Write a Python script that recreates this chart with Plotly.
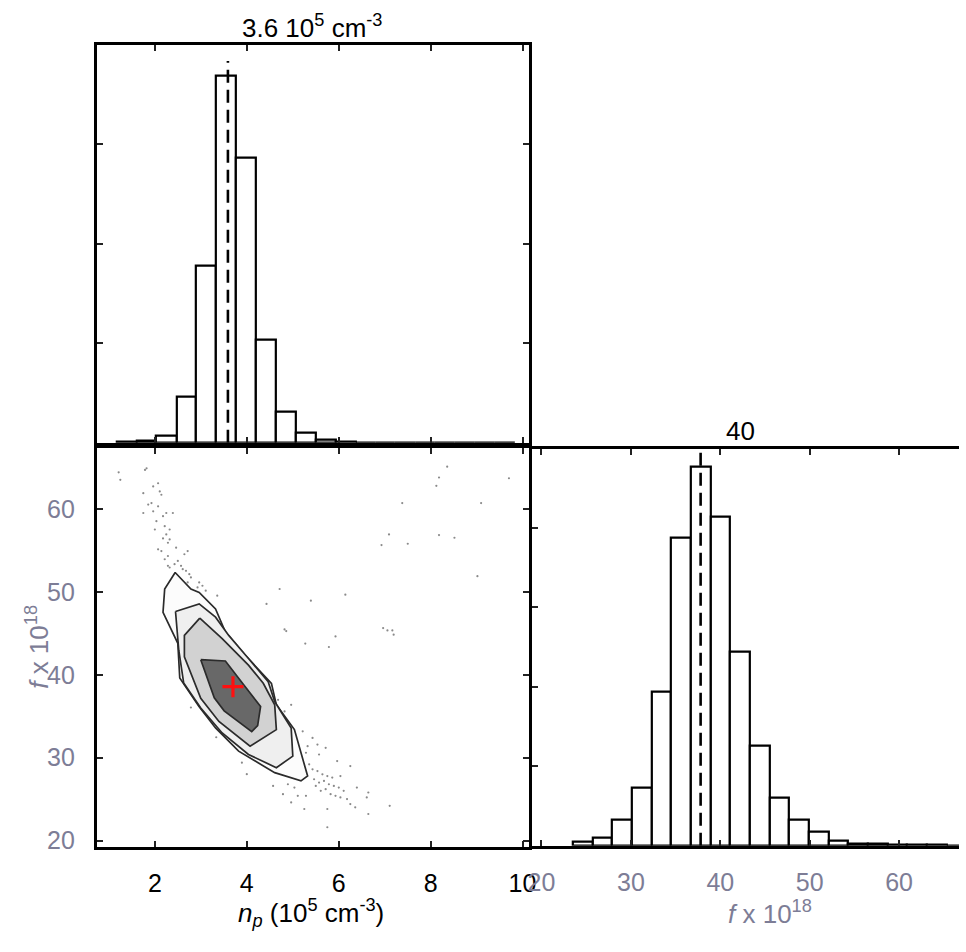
import plotly.graph_objects as go

# ---------------- data ----------------
# marginal histogram of n_p (10^5 cm^-3)
np_edges = [1.17, 1.60, 2.03, 2.47, 2.90, 3.33, 3.77, 4.20, 4.63, 5.07, 5.50,
            5.93, 6.37, 6.80, 7.23, 7.67, 8.10, 8.53, 8.97, 9.40, 9.83]
np_counts = [2, 6, 17, 115, 445, 922, 715, 260, 78, 25, 8, 3, 1, 1, 0, 0, 0, 0, 0, 0]
np_median = 3.59

# marginal histogram of f x 10^18
f_edges = [23.5, 25.7, 27.9, 30.1, 32.3, 34.5, 36.7, 38.9, 41.1, 43.3, 45.5,
           47.7, 49.9, 52.1, 54.3, 56.5, 58.7, 60.9, 63.1, 65.3, 67.5]
f_counts = [10, 20, 66, 146, 388, 775, 954, 828, 490, 252, 120, 65, 35, 14, 6, 4, 3, 2, 2, 1]
f_median = 37.8

# best-fit point
best_np = [3.70]
best_f = [38.56]

# posterior samples outside the contoured region
sample_np = [1.213, 1.249, 1.786, 1.820, 2.071, 1.964, 2.107, 2.142, 1.749, 1.927, 2.071, 1.856,
             1.749, 1.964, 2.249, 2.392, 2.178, 2.034, 2.215, 2.322, 2.000, 2.249, 2.178, 2.322,
             2.285, 2.463, 2.071, 2.142, 2.714, 2.643, 2.285, 2.215, 2.500, 2.429, 2.570, 2.322,
             2.607, 2.678, 2.750, 2.785, 2.714, 2.965, 2.929, 3.036, 3.107, 3.358, 2.285,
             8.361, 8.183, 8.125, 9.705, 7.383, 9.099, 7.095, 6.932, 7.503, 8.183, 8.519, 9.019,
             4.715, 4.430, 5.395, 6.145, 4.822, 4.859, 5.273, 5.931, 5.787, 6.967, 7.061, 7.168, 7.196,
             2.785, 3.336, 3.894, 4.001, 4.681, 4.822, 4.966,
             5.217, 5.431, 5.324, 5.538, 5.288, 5.573, 5.717, 5.967, 6.253, 5.358, 5.431, 5.538,
             5.646, 5.753, 5.860, 6.038, 5.465, 5.573, 5.502, 5.680, 5.787, 5.895, 6.002, 6.109,
             5.610, 5.717, 5.824, 5.931, 6.038, 6.182, 6.253, 6.396, 6.645, 6.611, 6.360, 5.753,
             5.252, 4.966, 5.110, 5.288, 4.788, 5.037, 4.573, 6.645, 7.110, 5.753, 4.895]
sample_f = [64.43, 63.52, 64.72, 64.91, 63.11, 62.72, 62.12, 61.72, 61.91, 60.72, 60.32, 60.53,
            59.52, 59.72, 59.52, 59.52, 59.13, 58.53, 57.93, 57.53, 57.53, 56.93, 56.45, 56.33,
            55.93, 55.33, 55.14, 54.93, 54.93, 54.54, 54.33, 53.94, 53.74, 53.34, 53.14, 52.94,
            52.74, 52.54, 52.14, 51.74, 51.14, 51.14, 50.54, 50.74, 50.14, 49.54, 53.14,
            65.11, 63.80, 62.80, 63.71, 60.72, 60.72, 56.93, 55.65, 55.81, 56.85, 56.53, 51.90,
            50.35, 48.55, 48.94, 49.66, 45.47, 45.27, 43.76, 44.63, 43.35, 45.63, 45.35, 45.35, 44.84,
            36.05, 32.46, 29.39, 28.00, 36.97, 35.57, 36.37,
            33.17, 32.38, 31.38, 31.58, 30.59, 30.38, 31.18, 29.58, 28.98, 29.19, 28.59, 28.38,
            27.99, 27.78, 27.59, 27.78, 27.39, 26.99, 26.59, 27.19, 26.79, 26.59, 26.39, 25.99,
            25.99, 26.19, 25.59, 25.39, 25.20, 25.00, 24.40, 26.39, 25.79, 25.20, 24.00, 23.80,
            23.80, 24.60, 25.39, 25.39, 25.59, 26.39, 26.59, 23.20, 24.19, 21.60, 26.79]

# credible-region contours, outermost first
level1_np = [2.442, 2.785, 2.965, 3.321, 3.536, 3.964, 4.537, 4.644, 5.037, 5.324, 5.180,
             4.608, 3.823, 3.321, 2.965, 2.542, 2.500, 2.178, 2.214, 2.442]
level1_f = [52.34, 50.35, 49.94, 47.95, 45.15, 42.36, 38.97, 36.37, 33.38, 27.78, 27.19,
            28.19, 30.78, 33.58, 36.13, 39.61, 43.80, 47.54, 50.35, 52.34]
level2_np = [2.450, 2.965, 3.321, 3.608, 4.037, 4.466, 4.608, 4.966, 5.002, 4.644, 4.037,
             3.465, 2.999, 2.628, 2.521, 2.450]
level2_f = [47.63, 48.55, 46.95, 44.75, 41.96, 39.16, 36.77, 33.58, 30.18, 28.79, 30.38,
            32.98, 35.98, 39.00, 42.96, 47.63]
level3_np = [2.978, 3.465, 4.037, 4.359, 4.608, 4.644, 4.072, 3.394, 2.999, 2.643, 2.643, 2.978]
level3_f = [46.83, 44.36, 41.16, 38.97, 36.37, 33.38, 31.38, 34.37, 37.17, 42.16, 44.75, 46.83]
level4_np = [2.999, 3.535, 3.937, 4.301, 4.237, 4.108, 3.508, 3.293, 2.999]
level4_f = [41.82, 41.66, 38.77, 36.17, 33.86, 33.14, 35.65, 37.21, 41.82]

np_ticks = [2, 4, 6, 8, 10]
f_ticks = [20, 30, 40, 50, 60]

# ---------------- figure ----------------
W, H = 966, 952
FONT = "Liberation Sans, Arial, Helvetica, sans-serif"
GREY = "#7d7d96"


def centers(edges):
    return [(a + b) / 2 for a, b in zip(edges[:-1], edges[1:])]


def widths(edges):
    return [b - a for a, b in zip(edges[:-1], edges[1:])]


fig = go.Figure()

# n_p histogram (top left)
fig.add_trace(go.Bar(x=centers(np_edges), y=np_counts, width=widths(np_edges),
                     marker=dict(color="white", line=dict(color="black", width=2.2)),
                     xaxis="x", yaxis="y", hoverinfo="skip"))
fig.add_trace(go.Scatter(x=[np_median, np_median], y=[0, 1.04 * max(np_counts)],
                         mode="lines", line=dict(color="black", width=2.6, dash="13px,7px"),
                         xaxis="x", yaxis="y", hoverinfo="skip"))

# joint distribution (bottom left)
fig.add_trace(go.Scatter(x=sample_np, y=sample_f, mode="markers",
                         marker=dict(size=2.2, color="#8a8a8a"),
                         xaxis="x2", yaxis="y2", hoverinfo="skip"))
for xs, ys, fc in [(level1_np, level1_f, "#fcfcfc"),
                   (level2_np, level2_f, "#efefef"),
                   (level3_np, level3_f, "#d2d2d2"),
                   (level4_np, level4_f, "#686868")]:
    fig.add_trace(go.Scatter(x=xs, y=ys, mode="lines", fill="toself", fillcolor=fc,
                             line=dict(color="#2b2b2b", width=1.7),
                             xaxis="x2", yaxis="y2", hoverinfo="skip"))
fig.add_trace(go.Scatter(x=best_np, y=best_f, mode="markers",
                         marker=dict(symbol="cross-thin", size=15,
                                     line=dict(color="#ff1010", width=3.2)),
                         xaxis="x2", yaxis="y2", hoverinfo="skip"))

# f histogram (bottom right)
fig.add_trace(go.Bar(x=centers(f_edges), y=f_counts, width=widths(f_edges),
                     marker=dict(color="white", line=dict(color="black", width=2.2)),
                     xaxis="x3", yaxis="y3", hoverinfo="skip"))
fig.add_trace(go.Scatter(x=[f_median, f_median], y=[0, 1.045 * max(f_counts)],
                         mode="lines", line=dict(color="black", width=2.6, dash="13px,7px"),
                         xaxis="x3", yaxis="y3", hoverinfo="skip"))


def px(v):
    return v / W


def py(v):
    return 1 - v / H


common = dict(showgrid=False, zeroline=False, showline=True, linecolor="black", linewidth=3,
              ticks="inside", ticklen=6, tickwidth=2, tickcolor="#222222")
tickfont_black = dict(family=FONT, size=25, color="black")
tickfont_grey = dict(family=FONT, size=25, color=GREY)

np_range = [0.74, 10.14]
f_range = [19.25, 67.4]

fig.update_layout(
    width=W, height=H, margin=dict(l=0, r=0, t=0, b=0),
    paper_bgcolor="white", plot_bgcolor="white", showlegend=False,
    bargap=0, barmode="overlay",
    font=dict(family=FONT, size=24, color="black"),
    xaxis=dict(domain=[px(94), px(531)], anchor="y", range=np_range,
               tickvals=np_ticks, showticklabels=False, mirror="ticks", **common),
    yaxis=dict(domain=[py(446), py(45)], anchor="x", range=[0, 1000],
               tickvals=[250, 500, 750], showticklabels=False, mirror="ticks", **common),
    xaxis2=dict(domain=[px(94), px(531)], anchor="y2", range=np_range,
                tickvals=np_ticks, ticktext=[str(t) for t in np_ticks],
                tickfont=tickfont_black, ticklabelstandoff=12, mirror="ticks", **common),
    yaxis2=dict(domain=[py(853), py(451)], anchor="x2", range=f_range,
                tickvals=f_ticks, tickfont=tickfont_grey, ticklabelstandoff=14,
                mirror="ticks", **common),
    xaxis3=dict(domain=[px(534), 1.0], anchor="y3", range=[18.93, 66.7],
                tickvals=f_ticks, tickfont=tickfont_grey, ticklabelstandoff=12,
                mirror="ticks", **common),
    yaxis3=dict(domain=[py(852), py(452)], anchor="x3", range=[0, 1000],
                tickvals=[200, 400, 600, 800], showticklabels=False, mirror=False, **common),
)

annotations = [
    dict(text=f"{np_median:.1f} 10<sup>5</sup> cm<sup>-3</sup>", x=px(312), y=py(27),
         font=dict(family=FONT, size=26, color="black")),
    dict(text=f"{round(f_median, -1):.0f}", x=px(745), y=py(434),
         font=dict(family=FONT, size=26, color="black")),
    dict(text="<i>n</i><sub><i>p</i></sub> (10<sup>5</sup> cm<sup>-3</sup>)", x=px(311), y=py(920),
         font=dict(family=FONT, size=26, color="black")),
    dict(text="<i>f</i> x 10<sup>18</sup>", x=px(775), y=py(919),
         font=dict(family=FONT, size=26, color=GREY)),
    dict(text="<i>f</i> x 10<sup>18</sup>", x=px(34), y=py(652), textangle=-90,
         font=dict(family=FONT, size=26, color=GREY)),
]
for a in annotations:
    a.update(xref="paper", yref="paper", showarrow=False, xanchor="center", yanchor="middle")
fig.update_layout(annotations=annotations)

fig.write_html("out.html")
